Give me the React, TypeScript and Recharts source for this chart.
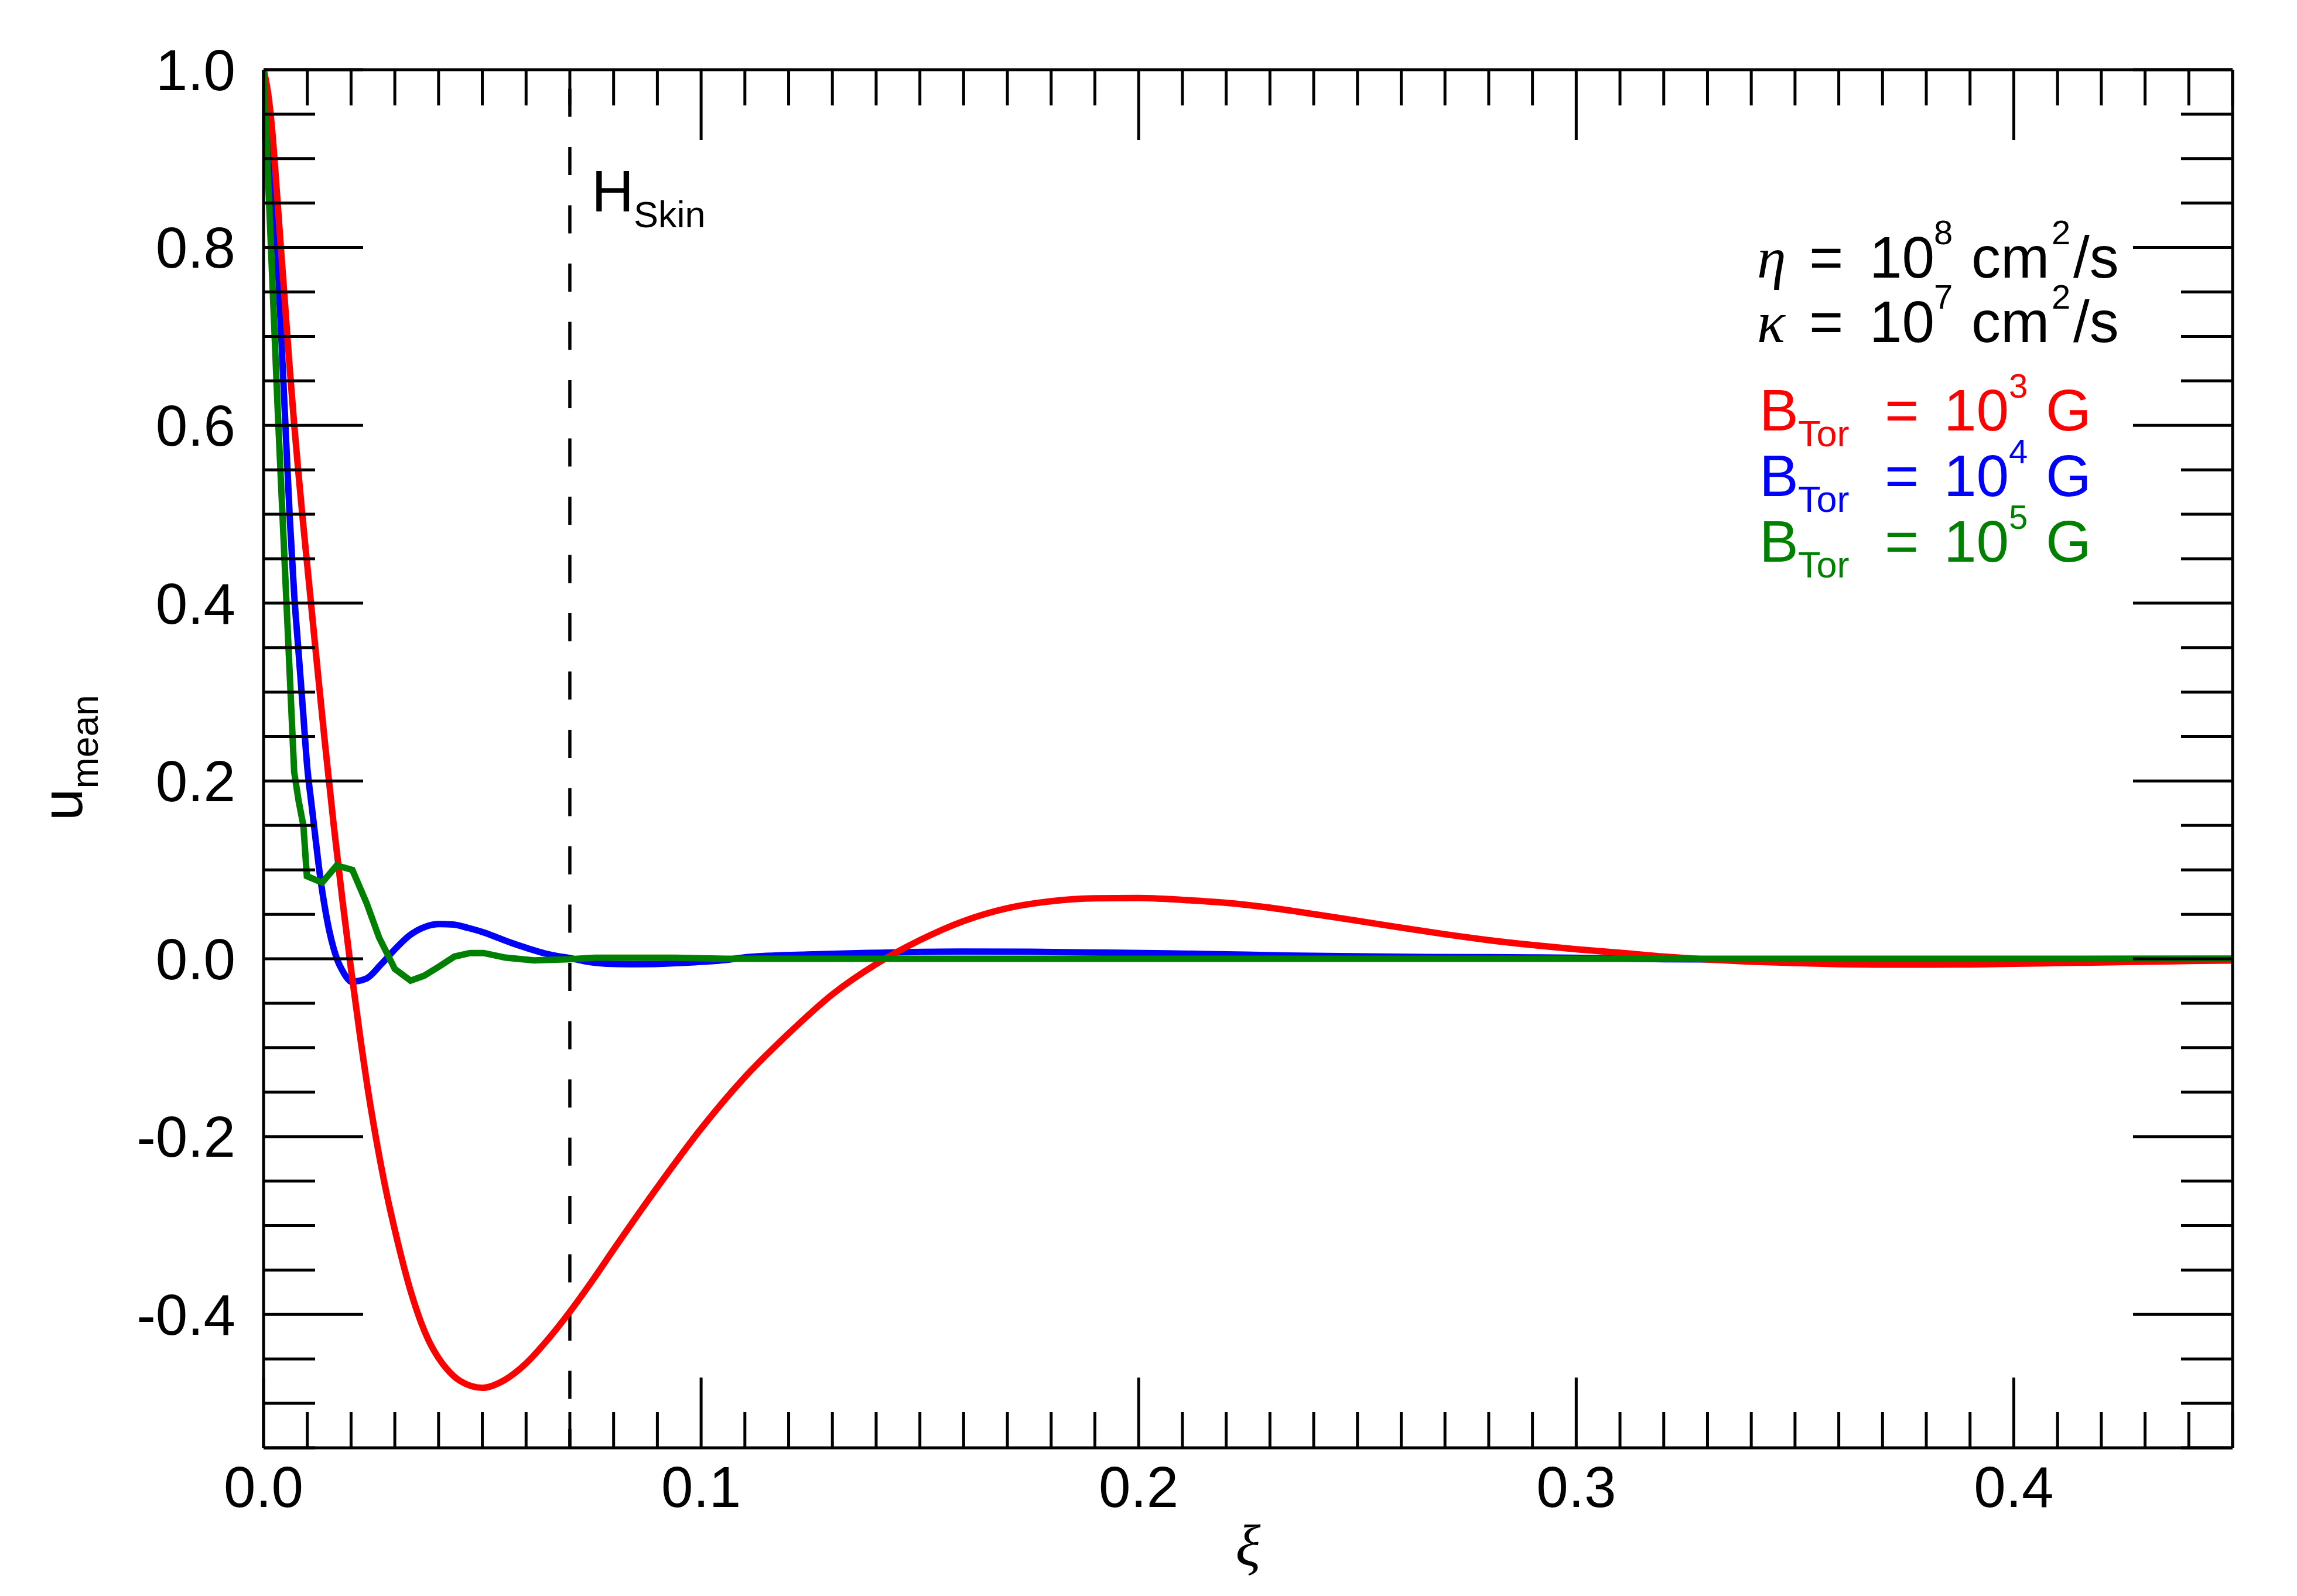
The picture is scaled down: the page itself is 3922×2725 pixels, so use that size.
import { LineChart, Line, XAxis, YAxis, ReferenceLine, Customized } from 'recharts'

document.body.style.margin = '0'

const W = 3922
const H = 2725

const SANS = '"Liberation Sans", Arial, Helvetica, sans-serif'
const SERIF = '"Liberation Serif", "Times New Roman", serif'

// xi, u_mean
const RED: [number, number][] = [
  [0, 1.0], [0.001, 0.975], [0.002, 0.93], [0.003, 0.865], [0.004, 0.797], [0.005, 0.73],
  [0.006, 0.663], [0.007, 0.601], [0.008, 0.545], [0.009, 0.492], [0.01, 0.442], [0.012, 0.342],
  [0.014, 0.244], [0.016, 0.152], [0.018, 0.067], [0.02, -0.012], [0.022, -0.085], [0.024, -0.152],
  [0.026, -0.21], [0.028, -0.261], [0.03, -0.305], [0.032, -0.345], [0.034, -0.38], [0.036, -0.409],
  [0.038, -0.432], [0.04, -0.449], [0.042, -0.462], [0.045, -0.475], [0.05, -0.4825], [0.055, -0.474],
  [0.06, -0.455], [0.065, -0.428], [0.07, -0.397], [0.075, -0.363], [0.08, -0.327], [0.09, -0.257],
  [0.1, -0.191], [0.11, -0.133], [0.12, -0.084], [0.13, -0.04], [0.14, -0.006], [0.15, 0.021],
  [0.16, 0.0425], [0.17, 0.057], [0.18, 0.0648], [0.19, 0.068], [0.2, 0.0684], [0.21, 0.0663],
  [0.22, 0.063], [0.23, 0.0575], [0.24, 0.0503], [0.25, 0.0428], [0.26, 0.035], [0.27, 0.0276],
  [0.28, 0.021], [0.29, 0.0155], [0.3, 0.0108], [0.31, 0.0068], [0.32, 0.0025], [0.33, -0.0008],
  [0.34, -0.0032], [0.35, -0.0048], [0.36, -0.006], [0.37, -0.0065], [0.38, -0.0066], [0.39, -0.0063],
  [0.4, -0.0056], [0.41, -0.0048], [0.42, -0.004], [0.43, -0.0032], [0.44, -0.0025], [0.45, -0.002],
]

const BLUE: [number, number][] = [
  [0, 1.0], [0.001, 0.965], [0.002, 0.905], [0.003, 0.81], [0.004, 0.705], [0.005, 0.6],
  [0.006, 0.495], [0.007, 0.41], [0.008, 0.345], [0.009, 0.28], [0.01, 0.215], [0.011, 0.172],
  [0.012, 0.13], [0.013, 0.09], [0.014, 0.058], [0.015, 0.032], [0.016, 0.012], [0.017, -0.003],
  [0.018, -0.013], [0.019, -0.021], [0.02, -0.0257], [0.0234, -0.0224], [0.0269, -0.006], [0.0304, 0.0126],
  [0.0334, 0.0264], [0.0368, 0.0357], [0.0402, 0.039], [0.0433, 0.0386], [0.0467, 0.0348], [0.0505, 0.0294],
  [0.0539, 0.023], [0.0573, 0.0168], [0.0607, 0.0113], [0.0641, 0.0063], [0.0668, 0.0034], [0.07, 0.0008],
  [0.0737, -0.003], [0.0784, -0.0055], [0.0836, -0.006], [0.0894, -0.0059], [0.0955, -0.0046], [0.1056, -0.0013],
  [0.1108, 0.002], [0.1242, 0.0048], [0.138, 0.0066], [0.1595, 0.0081], [0.175, 0.0079], [0.188, 0.0071],
  [0.2063, 0.0062], [0.218, 0.0052], [0.234, 0.0037], [0.2657, 0.0021], [0.29, 0.0016], [0.305, 0.0008],
  [0.32, -0.0004], [0.345, -0.001], [0.375, -0.001], [0.4, -0.0004], [0.45, 0],
]

const GREEN: [number, number][] = [
  [0, 1.0], [0.0033, 0.61], [0.007, 0.21], [0.008, 0.178], [0.0091, 0.15], [0.0099, 0.093],
  [0.0134, 0.0857], [0.0167, 0.105], [0.0203, 0.1], [0.0236, 0.062], [0.0264, 0.024], [0.03, -0.0114],
  [0.0336, -0.0246], [0.0367, -0.019], [0.0402, -0.0084], [0.0436, 0.0025], [0.0472, 0.0065], [0.0503, 0.0065],
  [0.0553, 0.0013], [0.0618, -0.0018], [0.07, -0.0004], [0.0757, 0.0012], [0.0941, 0.0012], [0.1056, 0],
  [0.45, 0],
]

const HSKIN = 0.07

const X_DOMAIN: [number, number] = [0, 0.45]
const Y_DOMAIN: [number, number] = [-0.55, 1.0]
const X_LABELS = [0, 0.1, 0.2, 0.3, 0.4]
const Y_LABELS = [-0.4, -0.2, 0, 0.2, 0.4, 0.6, 0.8, 1.0]
const X_MINOR = 0.01
const Y_MINOR = 0.05

const PARAMS = [
  { symbol: 'η', exp: '8', base: 474 },
  { symbol: 'κ', exp: '7', base: 584 },
]
const FIELDS = [
  { exp: '3', color: '#ff0000', base: 735 },
  { exp: '4', color: '#0000ff', base: 847 },
  { exp: '5', color: '#008000', base: 959 },
]

const steps = (lo: number, hi: number, step: number) =>
  Array.from({ length: Math.round((hi - lo) / step) + 1 }, (_, i) => Math.round((lo + i * step) * 1000) / 1000)

const X_TICKS = steps(X_DOMAIN[0], X_DOMAIN[1], X_MINOR)
const Y_TICKS = steps(Y_DOMAIN[0], Y_DOMAIN[1], Y_MINOR)

const isIn = (list: number[], v: number) => list.some(l => Math.abs(l - v) < 1e-6)

const toPoints = (arr: [number, number][]) => arr.map(([xi, u]) => ({ xi, u }))

const tickStroke = { stroke: '#000', strokeWidth: 5 }

function BottomTick(props: any) {
  const { x, y, payload } = props
  const major = isIn(X_LABELS, payload.value)
  return (
    <g>
      <line x1={x} y1={y} x2={x} y2={y - (major ? 120 : 61)} {...tickStroke} />
      {major && (
        <text x={x} y={y + 101} textAnchor="middle" fontSize={98} fontFamily={SANS} fill="#000">
          {payload.value.toFixed(1)}
        </text>
      )}
    </g>
  )
}

function TopTick(props: any) {
  const { x, y, payload } = props
  const major = isIn(X_LABELS, payload.value)
  return <line x1={x} y1={y} x2={x} y2={y + (major ? 120 : 61)} {...tickStroke} />
}

function LeftTick(props: any) {
  const { x, y, payload } = props
  const major = isIn(Y_LABELS, payload.value)
  return (
    <g>
      <line x1={x} y1={y} x2={x + (major ? 170 : 88)} y2={y} {...tickStroke} />
      {major && (
        <text x={x - 48} y={y} dy="0.355em" textAnchor="end" fontSize={98} fontFamily={SANS} fill="#000">
          {payload.value.toFixed(1)}
        </text>
      )}
    </g>
  )
}

function RightTick(props: any) {
  const { x, y, payload } = props
  const major = isIn(Y_LABELS, payload.value)
  return <line x1={x} y1={y} x2={x - (major ? 170 : 88)} y2={y} {...tickStroke} />
}

function Annotations() {
  return (
    <g fontFamily={SANS} fill="#000">
      <text x={1010} y={361} fontSize={100}>
        H<tspan x={1082} y={388} fontSize={63}>Skin</tspan>
      </text>

      {PARAMS.map(p => (
        <text key={p.symbol} y={p.base} fontSize={100}>
          <tspan x={3000} fontFamily={SERIF} fontStyle="italic">{p.symbol}</tspan>
          <tspan x={3089}>=</tspan>
          <tspan x={3192}>10</tspan>
          <tspan x={3302} y={p.base - 57} fontSize={58}>{p.exp}</tspan>
          <tspan x={3366} y={p.base}>cm</tspan>
          <tspan x={3503} y={p.base - 57} fontSize={58}>2</tspan>
          <tspan x={3540} y={p.base}>/s</tspan>
        </text>
      ))}

      {FIELDS.map(f => (
        <text key={f.exp} y={f.base} fontSize={100} fill={f.color}>
          <tspan x={3004}>B</tspan>
          <tspan x={3070} y={f.base + 27} fontSize={63}>Tor</tspan>
          <tspan x={3218} y={f.base}>=</tspan>
          <tspan x={3319}>10</tspan>
          <tspan x={3430} y={f.base - 56} fontSize={58}>{f.exp}</tspan>
          <tspan x={3493} y={f.base}>G</tspan>
        </text>
      ))}

      <text transform="rotate(-90)" x={-1401} y={140} fontSize={98}>
        u<tspan dy={27} fontSize={64}>mean</tspan>
      </text>
      <text x={2131} y={2672} fontSize={100} fontFamily={SERIF} fontStyle="italic" textAnchor="middle">
        ξ
      </text>
    </g>
  )
}

export default function App() {
  const axisLine = { stroke: '#000', strokeWidth: 5 }
  return (
    <div style={{ width: W, height: H, overflow: 'hidden', background: '#fff' }}>
      <LineChart width={W} height={H} margin={{ top: 69, right: 60, bottom: 153, left: 350 }}>
        <XAxis
          xAxisId="b" type="number" dataKey="xi" domain={X_DOMAIN} allowDataOverflow
          ticks={X_TICKS} interval={0} tickSize={0} tickMargin={0} tickLine={false}
          tick={BottomTick} axisLine={axisLine} height={100}
        />
        <XAxis
          xAxisId="t" orientation="top" type="number" dataKey="xi" domain={X_DOMAIN} allowDataOverflow
          ticks={X_TICKS} interval={0} tickSize={0} tickMargin={0} tickLine={false}
          tick={TopTick} axisLine={axisLine} height={50}
        />
        <YAxis
          yAxisId="l" type="number" domain={Y_DOMAIN} allowDataOverflow
          ticks={Y_TICKS} interval={0} tickSize={0} tickMargin={0} tickLine={false}
          tick={LeftTick} axisLine={axisLine} width={100}
        />
        <YAxis
          yAxisId="r" orientation="right" type="number" domain={Y_DOMAIN} allowDataOverflow
          ticks={Y_TICKS} interval={0} tickSize={0} tickMargin={0} tickLine={false}
          tick={RightTick} axisLine={axisLine} width={50}
        />
        <ReferenceLine
          xAxisId="b" yAxisId="l"
          segment={[{ x: HSKIN, y: Y_DOMAIN[1] }, { x: HSKIN, y: Y_DOMAIN[0] }]}
          stroke="#000" strokeWidth={5.5} strokeDasharray="48 51.5" strokeDashoffset={67}
        />
        <Line xAxisId="b" yAxisId="l" data={toPoints(BLUE)} dataKey="u" type="monotone"
          stroke="#0000ff" strokeWidth={11} dot={false} activeDot={false} isAnimationActive={false} />
        <Line xAxisId="b" yAxisId="l" data={toPoints(RED)} dataKey="u" type="monotone"
          stroke="#ff0000" strokeWidth={11} dot={false} activeDot={false} isAnimationActive={false} />
        <Line xAxisId="b" yAxisId="l" data={toPoints(GREEN)} dataKey="u" type="linear"
          stroke="#008000" strokeWidth={11} dot={false} activeDot={false} isAnimationActive={false} />
        <Customized component={Annotations} />
      </LineChart>
    </div>
  )
}
